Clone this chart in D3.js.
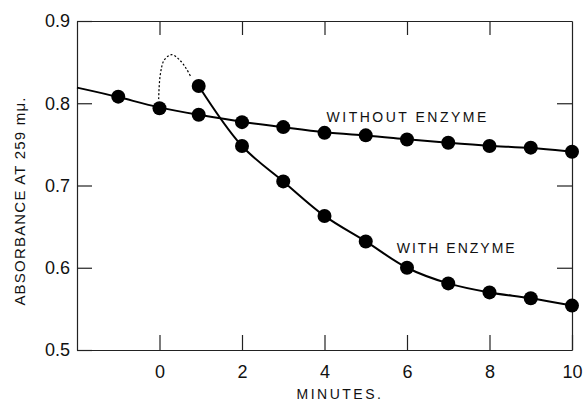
<!DOCTYPE html>
<html>
<head>
<meta charset="utf-8">
<script src="https://cdn.jsdelivr.net/npm/d3@7"></script>
<style>
  body { margin: 0; background: #fff; }
  svg { font-family: "Liberation Sans", Arial, sans-serif; }
  .axis text { font-size: 18px; fill: #111; }
  .axis path, .axis line { stroke: #222; stroke-width: 1.2; }
  .lbl { font-size: 14px; fill: #111; letter-spacing: 2.5px; }
</style>
</head>
<body>
<svg id="chart" width="587" height="403"></svg>
<script>
// minutes and absorbance
const minutes = [-1, 0, 0.95, 2, 3, 4, 5, 6, 7, 8, 9, 10];
const withoutEnzyme = [0.808, 0.794, 0.786, 0.777, 0.771, 0.764, 0.761, 0.756, 0.752, 0.748, 0.746, 0.741];

const enzMinutes = [0.95, 2, 3, 4, 5, 6, 7, 8, 9, 10];
const withEnzyme = [0.821, 0.748, 0.705, 0.663, 0.632, 0.600, 0.581, 0.570, 0.563, 0.554];

// fitted line extends to the left edge of the plot
const fitStart = [-2, 0.819];

// dotted hump between 0 and 1 min
const humpMinutes = [-0.02, 0.02, 0.12, 0.3, 0.5, 0.65, 0.75];
const humpValues = [0.805, 0.835, 0.853, 0.859, 0.852, 0.842, 0.833];

const xTicks = [0, 2, 4, 6, 8, 10];
const yTicks = [0.5, 0.6, 0.7, 0.8, 0.9];

const svg = d3.select('#chart');
const x = d3.scaleLinear().domain([-2, 10]).range([77, 572]);
const y = d3.scaleLinear().domain([0.5, 0.9]).range([350, 21]);

// frame + inward ticks
svg.append('g').attr('class', 'axis')
  .attr('transform', 'translate(0,350)')
  .call(d3.axisBottom(x).tickValues(xTicks).tickSizeInner(-15).tickSizeOuter(0).tickPadding(15)
    .tickFormat(d => d));

svg.append('g').attr('class', 'axis')
  .attr('transform', 'translate(77,0)')
  .call(d3.axisLeft(y).tickValues(yTicks).tickSizeInner(-15).tickSizeOuter(0).tickPadding(7)
    .tickFormat(d3.format('.1f')));

svg.append('g').attr('class', 'axis')
  .attr('transform', 'translate(0,21)')
  .call(d3.axisTop(x).tickValues(xTicks.slice(0, 5)).tickSizeInner(-14).tickSizeOuter(0).tickFormat(''));

svg.append('g').attr('class', 'axis')
  .attr('transform', 'translate(572,0)')
  .call(d3.axisRight(y).tickValues(yTicks.slice(1, 4)).tickSizeInner(-15).tickSizeOuter(0).tickFormat(''));

svg.selectAll('.axis .domain').attr('stroke-width', 1);

const line = d3.line()
  .x(d => x(d[0]))
  .y(d => y(d[1]))
  .curve(d3.curveBasis);

const withoutPts = minutes.map((m, i) => [m, withoutEnzyme[i]]);
const withPts = enzMinutes.map((m, i) => [m, withEnzyme[i]]);

svg.append('path')
  .datum([fitStart].concat(withoutPts))
  .attr('d', line)
  .attr('fill', 'none')
  .attr('stroke', '#000')
  .attr('stroke-width', 2);

svg.append('path')
  .datum(withPts)
  .attr('d', line.curve(d3.curveCatmullRom))
  .attr('fill', 'none')
  .attr('stroke', '#000')
  .attr('stroke-width', 2);

svg.append('path')
  .datum(humpMinutes.map((m, i) => [m, humpValues[i]]))
  .attr('d', d3.line().x(d => x(d[0])).y(d => y(d[1])).curve(d3.curveCatmullRom))
  .attr('fill', 'none')
  .attr('stroke', '#000')
  .attr('stroke-width', 1.2)
  .attr('stroke-dasharray', '2,2');

svg.append('g').selectAll('circle')
  .data(withoutPts.concat(withPts))
  .join('circle')
  .attr('cx', d => x(d[0]))
  .attr('cy', d => y(d[1]))
  .attr('r', 7)
  .attr('fill', '#000');

// curve labels
svg.append('text').attr('class', 'lbl')
  .attr('x', x(4.05)).attr('y', y(0.777))
  .text('WITHOUT ENZYME');

svg.append('text').attr('class', 'lbl')
  .attr('x', x(5.75)).attr('y', y(0.618))
  .style('letter-spacing', '2px')
  .text('WITH ENZYME');

svg.append('text').attr('class', 'lbl')
  .attr('x', 340).attr('y', 399)
  .attr('text-anchor', 'middle')
  .text('MINUTES.');

svg.append('text').attr('class', 'lbl')
  .attr('transform', 'translate(25,201) rotate(-90)')
  .attr('text-anchor', 'middle')
  .style('font-size', '15px')
  .style('letter-spacing', '1.2px')
  .text('ABSORBANCE AT 259 mμ.');
</script>
</body>
</html>
